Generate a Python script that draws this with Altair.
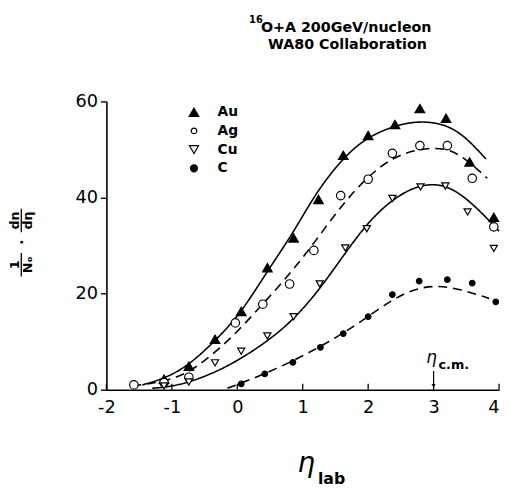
import altair as alt
import pandas as pd

series_names = ["Au", "Ag", "Cu", "C"]
series_shapes = ["triangle-up", "circle", "triangle-down", "circle"]
series_fills = ["black", "white", "white", "black"]
series_sizes = [95, 32, 85, 50]
series_dash = [[1, 0], [9, 6], [1, 0], [9, 6]]

# measured data points
au_eta = [-1.12, -0.74, -0.34, 0.06, 0.46, 0.86, 1.24, 1.62, 2.00, 2.41, 2.79, 3.19, 3.55, 3.92]
au_val = [2.2, 4.9, 10.5, 16.3, 25.4, 31.6, 39.6, 48.8, 52.9, 55.2, 58.5, 56.5, 47.4, 35.9]

ag_eta = [-1.58, -1.12, -0.74, -0.03, 0.39, 0.80, 1.17, 1.58, 2.00, 2.37, 2.79, 3.21, 3.59, 3.92]
ag_val = [1.0, 1.5, 2.6, 13.9, 17.8, 22.0, 29.0, 40.4, 43.8, 49.2, 50.8, 50.8, 44.0, 33.9]

cu_eta = [-1.12, -0.74, -0.34, 0.06, 0.46, 0.86, 1.26, 1.65, 1.98, 2.37, 2.80, 3.18, 3.52, 3.92]
cu_val = [0.8, 1.6, 5.6, 8.0, 11.2, 15.2, 22.0, 29.5, 33.5, 39.8, 42.2, 42.4, 37.0, 29.4]

c_eta = [0.06, 0.42, 0.85, 1.27, 1.62, 2.00, 2.37, 2.78, 3.21, 3.59, 3.95]
c_val = [1.2, 3.3, 5.7, 8.8, 11.7, 15.2, 19.8, 22.6, 22.9, 22.2, 18.3]

# fitted curves
au_curve_eta = [-1.45, -1.1, -0.75, -0.35, 0.05, 0.45, 0.85, 1.2, 1.6, 1.95, 2.4, 2.8, 3.2, 3.5, 3.8]
au_curve_val = [1.0, 2.4, 5.0, 10.0, 15.8, 24.5, 32.5, 41.0, 48.0, 52.3, 55.0, 56.0, 55.2, 52.5, 48.0]

ag_curve_eta = [-1.6, -1.2, -0.8, -0.4, 0.0, 0.4, 0.8, 1.2, 1.6, 2.0, 2.4, 2.8, 3.2, 3.5, 3.82]
ag_curve_val = [0.8, 1.5, 3.0, 7.0, 12.0, 18.0, 24.0, 31.0, 38.5, 44.5, 48.6, 50.2, 50.4, 48.0, 44.0]

cu_curve_eta = [-1.3, -0.9, -0.4, 0.0, 0.4, 0.8, 1.2, 1.6, 2.0, 2.4, 2.8, 3.2, 3.6, 4.0]
cu_curve_val = [0.3, 0.8, 3.2, 6.0, 9.5, 13.8, 19.8, 27.5, 35.0, 40.0, 42.8, 42.8, 38.8, 33.0]

c_curve_eta = [-0.15, 0.2, 0.6, 1.0, 1.4, 1.8, 2.2, 2.6, 3.0, 3.4, 3.85]
c_curve_val = [0.3, 2.1, 4.4, 7.0, 10.0, 13.3, 17.2, 20.6, 21.8, 21.0, 19.0]

x_ticks = [-2, -1, 0, 1, 2, 3, 4]
y_ticks = [0, 20, 40, 60]
cm_eta = [3.0]

title_sup = "16"
title_lines = ["O+A 200GeV/nucleon", "WA80 Collaboration"]

FONT = "DejaVu Sans"
W, H = 399, 293


def frame(pairs):
    rows = []
    for name, (xs, ys) in zip(series_names, pairs):
        for a, b in zip(xs, ys):
            rows.append({"eta": a, "val": b, "series": name})
    return pd.DataFrame(rows)


points_df = frame([(au_eta, au_val), (ag_eta, ag_val), (cu_eta, cu_val), (c_eta, c_val)])
curves_df = frame([(au_curve_eta, au_curve_val), (ag_curve_eta, ag_curve_val),
                   (cu_curve_eta, cu_curve_val), (c_curve_eta, c_curve_val)])

xscale = alt.Scale(domain=[-2, 4], nice=False, zero=False)
yscale = alt.Scale(domain=[0, 60], nice=False)

x_axis = alt.Axis(values=x_ticks, format="d", title=None, tickSize=0, labelFontSize=18,
                  labelFont=FONT, labelColor="black", labelPadding=9, domainColor="black",
                  domainWidth=1.6, grid=False, labelFlush=False,
                  labelExpr="datum.value < 0 ? '-' + abs(datum.value) : '' + datum.value",
                  labelAlign=alt.expr("datum.value == 4 ? 'right' : 'center'"))
y_axis = alt.Axis(values=y_ticks, format="d", title=None, tickSize=6, tickColor="black",
                  tickWidth=1.4, labelFontSize=18, labelFont=FONT, labelColor="black",
                  labelPadding=3, domainColor="black", domainWidth=1.6, grid=False)

lines = alt.Chart(curves_df).mark_line(color="black", strokeWidth=1.6, interpolate="basis").encode(
    x=alt.X("eta:Q", scale=xscale, axis=x_axis),
    y=alt.Y("val:Q", scale=yscale, axis=y_axis),
    detail="series:N",
    strokeDash=alt.StrokeDash("series:N", scale=alt.Scale(domain=series_names, range=series_dash),
                              legend=None),
)

points = alt.Chart(points_df).mark_point(stroke="black", strokeWidth=1.2, opacity=1).encode(
    x=alt.X("eta:Q", scale=xscale),
    y=alt.Y("val:Q", scale=yscale),
    shape=alt.Shape("series:N", scale=alt.Scale(domain=series_names, range=series_shapes),
                    legend=None),
    fill=alt.Fill("series:N", scale=alt.Scale(domain=series_names, range=series_fills),
                  legend=None),
    size=alt.Size("series:N", scale=alt.Scale(domain=series_names, range=series_sizes),
                  legend=None),
)

ticks_df = pd.DataFrame({"eta": x_ticks})
xticks = alt.Chart(ticks_df).mark_rule(color="black", strokeWidth=1.3).encode(
    x=alt.X("eta:Q", scale=xscale), y=alt.value(H), y2=alt.value(H - 6))

cm_df = pd.DataFrame({"eta": cm_eta})
cm_rule = alt.Chart(cm_df).mark_rule(color="black", strokeWidth=1.2).encode(
    x=alt.X("eta:Q", scale=xscale), y=alt.value(H - 19), y2=alt.value(H - 3))
cm_head = alt.Chart(cm_df).mark_point(shape="triangle-down", filled=True, color="black",
                                      size=18, opacity=1).encode(
    x=alt.X("eta:Q", scale=xscale), y=alt.value(H - 4))
cm_eta_text = alt.Chart(cm_df).mark_text(text="\u03b7", font=FONT, fontSize=17, fontStyle="italic",
                                         baseline="alphabetic", align="center", dx=-2,
                                         color="black").encode(
    x=alt.X("eta:Q", scale=xscale), y=alt.value(H - 27))
cm_sub_text = alt.Chart(cm_df).mark_text(text="c.m.", font=FONT, fontSize=13, fontWeight="bold",
                                         baseline="alphabetic", align="left", dx=5,
                                         color="black").encode(
    x=alt.X("eta:Q", scale=xscale), y=alt.value(H - 21))


def label(txt, x, y, size, **kw):
    return alt.Chart(pd.DataFrame({"t": [txt]})).mark_text(
        font=FONT, fontSize=size, color="black", **kw).encode(
        text="t:N", x=alt.value(x), y=alt.value(y))


deco = [
    label(title_sup, 145, -83, 10, fontWeight="bold", align="left", baseline="middle"),
    label(title_lines[0], 157, -75, 14.5, fontWeight="bold", align="left", baseline="middle"),
    label(title_lines[1], 245, -57, 14.5, fontWeight="bold", align="center", baseline="middle"),
    label("\u03b7", 203, 377, 28, fontStyle="italic", align="center", baseline="alphabetic"),
    label("lab", 215, 389, 16, fontWeight="bold", align="left", baseline="alphabetic"),
    label("1", -93, 166, 13, fontWeight="bold", angle=270, align="center", baseline="middle"),
    label("N\u2092", -80, 166, 13, fontWeight="bold", angle=270, align="center", baseline="middle"),
    label("\u00b7", -86, 143, 15, fontWeight="bold", angle=270, align="center", baseline="middle"),
    label("dn", -93, 121, 13, fontWeight="bold", angle=270, align="center", baseline="middle"),
    label("d\u03b7", -80, 121, 13, fontWeight="bold", angle=270, align="center", baseline="middle"),
]

frac_bar1 = alt.Chart(pd.DataFrame({"k": [0]})).mark_rule(color="black", strokeWidth=1.3).encode(
    x=alt.value(-86.5), y=alt.value(154), y2=alt.value(178))
frac_bar2 = alt.Chart(pd.DataFrame({"k": [0]})).mark_rule(color="black", strokeWidth=1.3).encode(
    x=alt.value(-86.5), y=alt.value(109), y2=alt.value(133))

# legend (top-left inside the plot)
legend_rows = [11, 30, 49, 68]
legend_layers = []
for name, shp, fil, sz, ry in zip(series_names, series_shapes, series_fills, series_sizes, legend_rows):
    legend_layers.append(
        alt.Chart(pd.DataFrame({"s": [name]})).mark_point(
            shape=shp, fill=fil, stroke="black", strokeWidth=1.2, size=sz, opacity=1).encode(
            x=alt.value(89), y=alt.value(ry)))
    legend_layers.append(label(name, 113, ry, 14, fontWeight="bold", align="left", baseline="middle"))

chart = alt.layer(lines, points, xticks, cm_rule, cm_head, cm_eta_text, cm_sub_text,
                  frac_bar1, frac_bar2, *deco, *legend_layers).properties(
    width=W, height=H,
    autosize=alt.AutoSizeParams(type="none"),
    padding={"left": 100, "top": 91, "right": 3, "bottom": 100},
    background="white",
).configure_view(stroke=None)

chart.save("out.html", embed_options={"renderer": "svg", "actions": False})
